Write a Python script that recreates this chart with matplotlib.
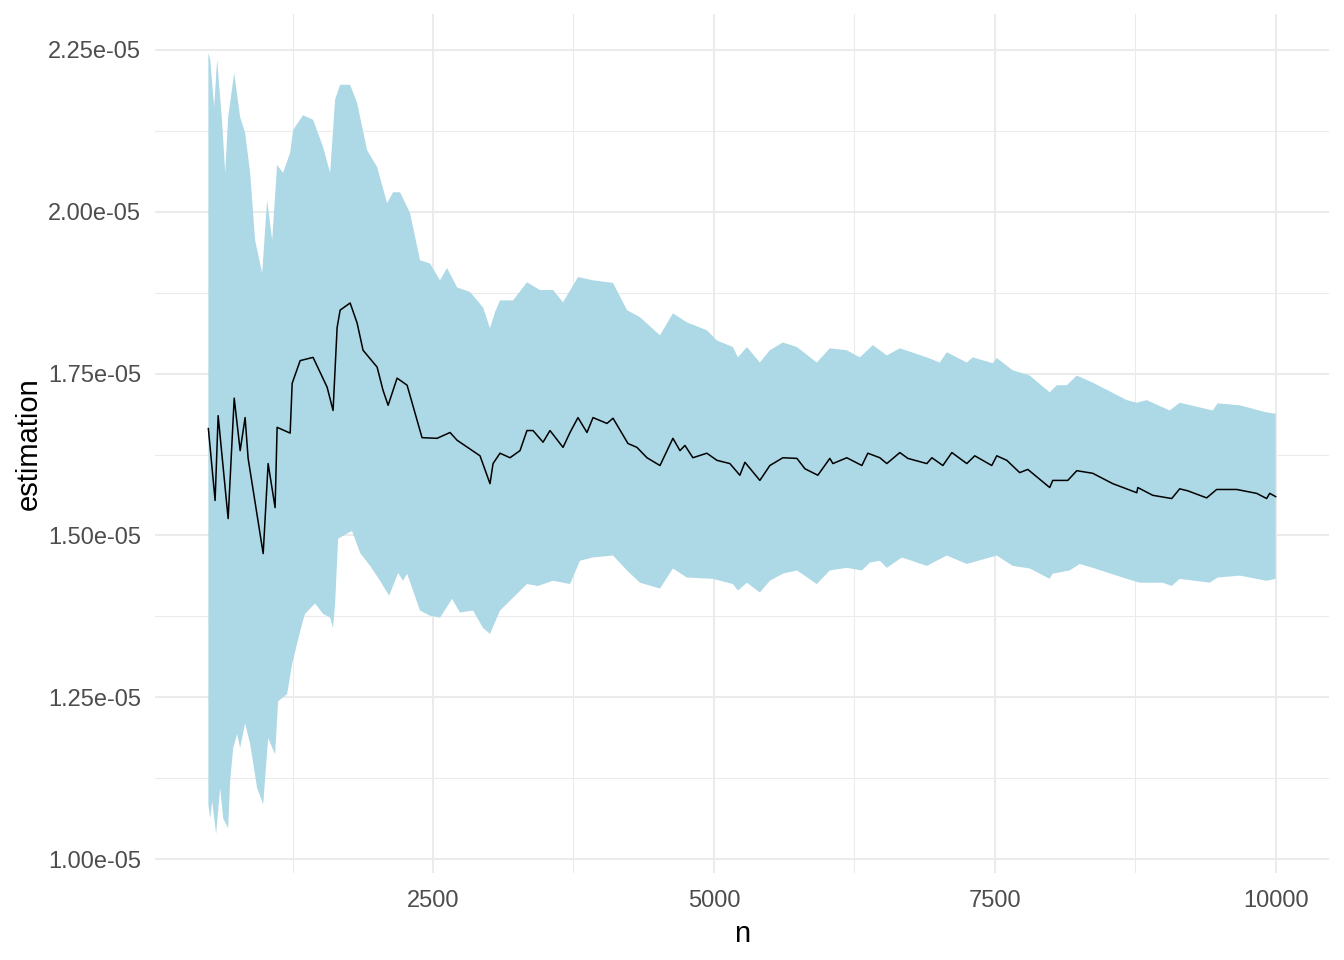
import numpy as np
import matplotlib
matplotlib.use("Agg")
import matplotlib.pyplot as plt
from matplotlib.ticker import FuncFormatter, MultipleLocator

# running estimate (values in units of 1e-05)
n_mean = [500, 560, 587, 676, 730, 783, 827, 854, 988, 1032, 1094, 1112, 1228, 1246,
          1317, 1432, 1557, 1610, 1646, 1673, 1762, 1824, 1877, 2002, 2055, 2100, 2180,
          2269, 2402, 2536, 2651, 2714, 2918, 3007, 3034, 3096, 3185, 3274, 3336, 3390,
          3479, 3541, 3657, 3719, 3790, 3870, 3924, 4048, 4102, 4235, 4315, 4404, 4520,
          4635, 4698, 4742, 4813, 4937, 5027, 5142, 5231, 5276, 5409, 5498, 5614, 5739,
          5810, 5925, 6032, 6059, 6183, 6317, 6370, 6477, 6539, 6655, 6726, 6895, 6940,
          7038, 7118, 7251, 7322, 7473, 7518, 7607, 7722, 7794, 7989, 8016, 8150, 8230,
          8372, 8550, 8764, 8773, 8906, 9075, 9146, 9217, 9386, 9475, 9653, 9831, 9920,
          9947, 10000]
est_mean = [1.665, 1.554, 1.685, 1.526, 1.712, 1.631, 1.682, 1.619, 1.472, 1.611, 1.543,
            1.667, 1.658, 1.735, 1.770, 1.775, 1.729, 1.693, 1.821, 1.848, 1.859, 1.828,
            1.786, 1.760, 1.724, 1.701, 1.743, 1.732, 1.651, 1.650, 1.659, 1.647, 1.623,
            1.580, 1.611, 1.627, 1.620, 1.631, 1.662, 1.662, 1.644, 1.662, 1.636, 1.659,
            1.682, 1.659, 1.682, 1.673, 1.681, 1.642, 1.636, 1.620, 1.608, 1.650, 1.631,
            1.639, 1.620, 1.627, 1.616, 1.611, 1.593, 1.613, 1.585, 1.608, 1.620, 1.619,
            1.603, 1.593, 1.619, 1.611, 1.620, 1.608, 1.627, 1.620, 1.611, 1.628, 1.619,
            1.611, 1.620, 1.608, 1.628, 1.611, 1.623, 1.608, 1.623, 1.616, 1.597, 1.602,
            1.574, 1.585, 1.585, 1.600, 1.596, 1.580, 1.566, 1.574, 1.562, 1.557, 1.572,
            1.569, 1.558, 1.571, 1.571, 1.565, 1.557, 1.565, 1.560]

# upper bound of the interval
n_upper = [500, 516, 552, 578, 623, 650, 676, 730, 783, 827, 872, 916, 979, 1023, 1068,
           1112, 1165, 1228, 1254, 1343, 1432, 1521, 1584, 1628, 1673, 1762, 1824, 1913,
           2002, 2091, 2144, 2206, 2295, 2384, 2473, 2562, 2625, 2714, 2829, 2945, 3007,
           3052, 3096, 3212, 3336, 3452, 3568, 3657, 3790, 3924, 4102, 4226, 4342, 4520,
           4635, 4760, 4937, 5027, 5169, 5214, 5294, 5409, 5498, 5614, 5739, 5916, 6032,
           6183, 6299, 6415, 6539, 6655, 6895, 7011, 7073, 7251, 7304, 7482, 7518, 7660,
           7811, 7989, 8052, 8141, 8230, 8372, 8675, 8764, 8853, 9057, 9146, 9440, 9484,
           9680, 9920, 10000]
est_upper = [2.245, 2.235, 2.162, 2.235, 2.137, 2.060, 2.146, 2.214, 2.146, 2.122, 2.060,
             1.956, 1.905, 2.018, 1.956, 2.072, 2.060, 2.091, 2.126, 2.149, 2.142, 2.100,
             2.060, 2.173, 2.196, 2.196, 2.168, 2.095, 2.069, 2.013, 2.030, 2.030, 1.998,
             1.925, 1.920, 1.894, 1.913, 1.883, 1.876, 1.852, 1.820, 1.845, 1.863, 1.863,
             1.891, 1.879, 1.879, 1.860, 1.899, 1.894, 1.890, 1.848, 1.837, 1.809, 1.843,
             1.829, 1.817, 1.801, 1.791, 1.775, 1.791, 1.767, 1.786, 1.798, 1.791, 1.767,
             1.789, 1.786, 1.775, 1.794, 1.778, 1.789, 1.775, 1.767, 1.783, 1.767, 1.775,
             1.766, 1.774, 1.755, 1.747, 1.721, 1.732, 1.732, 1.747, 1.736, 1.709, 1.705,
             1.709, 1.693, 1.705, 1.693, 1.704, 1.701, 1.690, 1.688]

# lower bound of the interval
n_lower = [500, 516, 534, 569, 605, 632, 676, 694, 721, 756, 783, 827, 872, 934, 988,
           1032, 1094, 1121, 1201, 1246, 1290, 1335, 1361, 1450, 1521, 1584, 1610, 1628,
           1655, 1735, 1779, 1851, 1940, 2028, 2109, 2189, 2233, 2269, 2384, 2473, 2562,
           2669, 2740, 2856, 2945, 3007, 3096, 3336, 3434, 3568, 3719, 3808, 3924, 4102,
           4226, 4342, 4520, 4635, 4760, 4991, 5169, 5214, 5294, 5409, 5498, 5614, 5739,
           5916, 6032, 6183, 6317, 6388, 6477, 6539, 6673, 6895, 7073, 7251, 7518, 7660,
           7811, 7989, 8016, 8167, 8256, 8372, 8675, 8790, 8995, 9075, 9146, 9413, 9484,
           9680, 9920, 10000]
est_lower = [1.085, 1.063, 1.090, 1.039, 1.110, 1.063, 1.048, 1.121, 1.172, 1.193, 1.172,
             1.210, 1.178, 1.110, 1.085, 1.187, 1.162, 1.244, 1.255, 1.302, 1.333, 1.364,
             1.379, 1.395, 1.379, 1.373, 1.357, 1.395, 1.495, 1.503, 1.507, 1.473, 1.453,
             1.430, 1.407, 1.442, 1.430, 1.441, 1.384, 1.376, 1.373, 1.402, 1.381, 1.384,
             1.357, 1.348, 1.384, 1.425, 1.422, 1.430, 1.425, 1.461, 1.466, 1.469, 1.446,
             1.427, 1.418, 1.449, 1.435, 1.433, 1.425, 1.415, 1.427, 1.412, 1.430, 1.441,
             1.446, 1.425, 1.446, 1.450, 1.446, 1.458, 1.461, 1.450, 1.466, 1.453, 1.469,
             1.456, 1.469, 1.453, 1.449, 1.433, 1.441, 1.446, 1.456, 1.450, 1.433, 1.427,
             1.427, 1.422, 1.433, 1.427, 1.435, 1.438, 1.430, 1.433]

SCALE = 1e-5
n_mean = np.array(n_mean)
n_upper = np.array(n_upper)
n_lower = np.array(n_lower)
est_mean = np.array(est_mean) * SCALE
est_upper = np.array(est_upper) * SCALE
est_lower = np.array(est_lower) * SCALE

plt.rcParams['font.family'] = ['Liberation Sans', 'DejaVu Sans']

fig = plt.figure(figsize=(13.44, 9.6), dpi=100)
ax = fig.add_axes([155 / 1344, 1 - 873 / 960, (1329 - 155) / 1344, (873 - 14) / 960])

# ribbon as one polygon: upper bound forward, lower bound back
ax.fill(np.concatenate([n_upper, n_lower[::-1]]),
        np.concatenate([est_upper, est_lower[::-1]]),
        color='#ADD8E6', lw=0, zorder=2)
ax.plot(n_mean, est_mean, color='black', lw=1.1, zorder=3)

# ggplot-like 5% expansion
xmin, xmax = n_mean.min(), n_mean.max()
ymin = min(est_lower.min(), est_mean.min())
ymax = max(est_upper.max(), est_mean.max())
ax.set_xlim(xmin - 0.05 * (xmax - xmin), xmax + 0.05 * (xmax - xmin))
ax.set_ylim(ymin - 0.05 * (ymax - ymin), ymax + 0.05 * (ymax - ymin))

ax.xaxis.set_major_locator(MultipleLocator(2500))
ax.xaxis.set_minor_locator(MultipleLocator(1250))
ax.yaxis.set_major_locator(MultipleLocator(0.25e-5))
ax.yaxis.set_minor_locator(MultipleLocator(0.125e-5))
ax.yaxis.set_major_formatter(FuncFormatter(lambda v, p: f'{v:.2e}'))

ax.grid(which='major', color='#EBEBEB', lw=1.5)
ax.grid(which='minor', color='#EBEBEB', lw=0.75)
ax.set_axisbelow(True)
for s in ax.spines.values():
    s.set_visible(False)
ax.tick_params(which='both', length=0, labelsize=17, labelcolor='#4D4D4D')
ax.tick_params(axis='x', pad=12)
ax.tick_params(axis='y', pad=10)

ax.set_xlabel('n', fontsize=21, labelpad=6)
ax.set_ylabel('estimation', fontsize=21, labelpad=4)

fig.savefig('out.png', dpi=100, facecolor='white')
